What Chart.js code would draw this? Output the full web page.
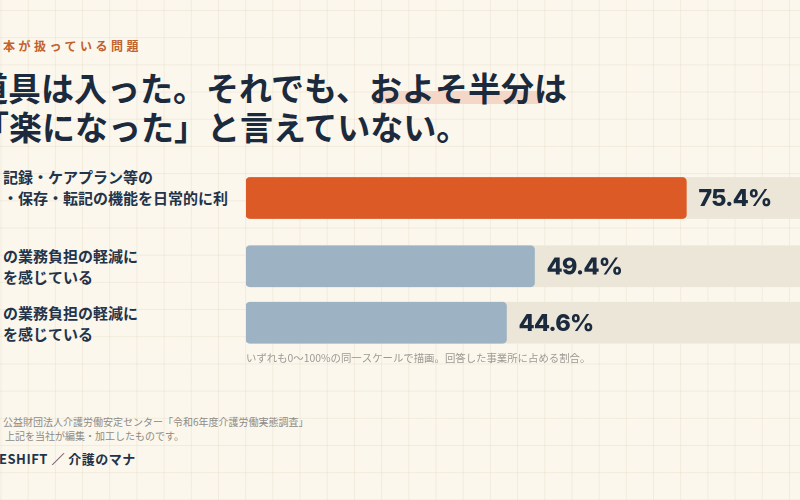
<!DOCTYPE html>
<html lang="ja">
<head>
<meta charset="utf-8">
<script src="https://cdn.jsdelivr.net/npm/chart.js@4.4.1/dist/chart.umd.min.js"></script>
<style>
  html, body { margin:0; padding:0; width:800px; height:500px; overflow:hidden; }
  body {
    position:relative;
    background-color:#fbf7ed;
    background-image:
      linear-gradient(to right, rgba(225,214,190,0.35) 1px, transparent 1px),
      linear-gradient(to bottom, rgba(225,214,190,0.35) 1px, transparent 1px);
    background-size:27.2px 27.2px;
    background-position:0.5px 10px;
    font-family:"Noto Sans CJK JP", "Noto Sans", sans-serif;
  }
  .abs { position:absolute; white-space:nowrap; }
  .eyebrow { left:3px; top:39px; font-size:12px; line-height:14px; font-weight:700; letter-spacing:3.5px; color:#c1612c; }
  .title { font-size:33px; line-height:40px; font-weight:700; color:#1b2a3c; letter-spacing:0; }
  .hl { background:#f5d7c7; }
  .lbl { left:3px; font-size:15px; line-height:21px; font-weight:700; color:#22334a; }
  .note { left:246px; top:351px; font-size:10.4px; line-height:14px; color:#9c9a94; }
  .src { font-size:10px; line-height:13px; color:#8d8b86; }
  .brand { left:-1px; top:451px; font-size:13px; line-height:16px; font-weight:700; letter-spacing:0.5px; color:#22334a; }
  canvas { position:absolute; left:0; }
</style>
</head>
<body>
<div class="abs hl" style="left:373px; top:91px; width:167px; height:13px;"></div>
<div class="abs eyebrow">本が扱っている問題</div>
<div class="abs title" style="left:-25px; top:67px;">道具は入った。それでも、およそ半分は</div>
<div class="abs title" style="left:-24px; top:106px;">「楽になった」と言えていない。</div>

<div class="abs lbl" style="top:166px;">記録・ケアプラン等の<br>・保存・転記の機能を日常的に利</div>
<div class="abs lbl" style="top:245px;">の業務負担の軽減に<br>を感じている</div>
<div class="abs lbl" style="top:302px;">の業務負担の軽減に<br>を感じている</div>

<canvas id="heroChart" style="top:170px;"></canvas>
<canvas id="restChart" style="top:238px;"></canvas>

<div class="abs note">いずれも0〜100%の同一スケールで描画。回答した事業所に占める割合。</div>
<div class="abs src" style="left:3px; top:415px;">公益財団法人介護労働安定センター「令和6年度介護労働実態調査」</div>
<div class="abs src" style="left:5px; top:429px;">上記を当社が編集・加工したものです。</div>
<div class="abs brand">ESHIFT ／ 介護のマナ</div>

<script>
// ---- data ----
const heroCategories = ['介護記録・ケアプラン等の作成・保存・転記の機能を日常的に利用'];
const heroValues = [75.4];
const restCategories = ['職員の業務負担の軽減に効果を感じている（A）', '職員の業務負担の軽減に効果を感じている（B）'];
const restValues = [49.4, 44.6];
const scaleMin = 0;
const scaleMax = 100;

const heroColor = '#dc5a25';
const restColor = '#9db3c4';
const trackColor = '#ece6d9';

const valueLabelPlugin = {
  id: 'valueLabels',
  afterDatasetsDraw(chart) {
    const ctx = chart.ctx;
    const meta = chart.getDatasetMeta(0);
    const vals = chart.data.datasets[0].data;
    ctx.save();
    ctx.font = '800 23.5px Inter, "Noto Sans", sans-serif';
    if ('letterSpacing' in ctx) ctx.letterSpacing = '-0.8px';
    ctx.fillStyle = '#1b2a3c';
    ctx.textAlign = 'left';
    ctx.textBaseline = 'middle';
    meta.data.forEach((bar, i) => {
      ctx.fillText(vals[i].toFixed(1) + '%', bar.x + 12, bar.y + 1);
    });
    ctx.restore();
  }
};

function makeChart(id, height, labels, values, color) {
  const el = document.getElementById(id);
  el.width = 900; el.height = height;
  el.style.width = '900px'; el.style.height = height + 'px';
  return new Chart(el, {
    type: 'bar',
    data: {
      labels: labels,
      datasets: [
        { data: values, backgroundColor: color, order: 1, grouped: false,
          barThickness: 41, borderRadius: 4, borderSkipped: false },
        { data: labels.map(() => scaleMax), backgroundColor: trackColor, order: 2, grouped: false,
          barThickness: 41, borderRadius: 4, borderSkipped: false }
      ]
    },
    options: {
      indexAxis: 'y',
      responsive: false,
      animation: false,
      devicePixelRatio: 2,
      layout: { padding: { left: 246, right: 70, top: 0, bottom: 0 } },
      plugins: { legend: { display: false }, tooltip: { enabled: false } },
      scales: {
        x: { min: scaleMin, max: scaleMax, display: false },
        y: { display: false }
      }
    },
    plugins: [valueLabelPlugin]
  });
}

makeChart('heroChart', 56, heroCategories, heroValues, heroColor);
makeChart('restChart', 113, restCategories, restValues, restColor);
</script>
</body>
</html>
